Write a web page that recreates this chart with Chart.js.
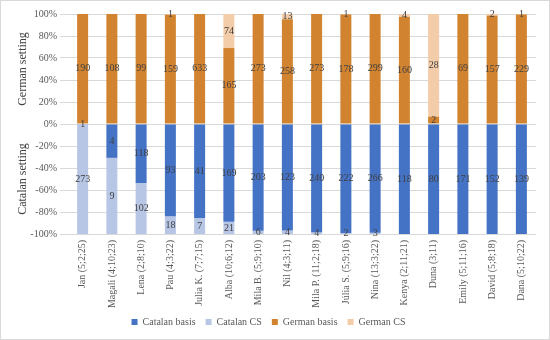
<!DOCTYPE html>
<html>
<head>
<meta charset="utf-8">
<script src="https://cdn.jsdelivr.net/npm/chart.js@4/dist/chart.umd.min.js"></script>
<style>
  body { margin: 0; background: #fff; }
  #wrap { width: 548px; height: 338px; border: 1px solid #d9d9d9; position: relative; }
</style>
</head>
<body>
<div id="wrap"><canvas id="Chart1" width="548" height="338"></canvas></div>
<script>
// children, counts per setting
var kids = ['Jan (5;2;25)', 'Magali (4;10;23)', 'Lena (2;8;10)', 'Pau (4;3;22)', 'Julia K. (7;7;15)',
	'Alba (10;6;12)', 'Mila B. (5;9;10)', 'Nil (4;3;11)', 'Mila P. (11;2;18)', 'Júlia S. (5;9;16)',
	'Nina (13;3;22)', 'Kenya (2;11;21)', 'Duna (3;11)', 'Emily (5;11;16)', 'David (5;8;18)', 'Dana (5;10;22)'];

var catBasis = [1, 4, 118, 93, 41, 169, 203, 123, 240, 222, 266, 118, 80, 171, 152, 139];
var catCS    = [273, 9, 102, 18, 7, 21, 6, 4, 4, 2, 3, 0, 0, 0, 0, 0];
var gerBasis = [190, 108, 99, 159, 633, 165, 273, 258, 273, 178, 299, 160, 2, 69, 157, 229];
var gerCS    = [0, 0, 0, 1, 0, 74, 0, 13, 0, 1, 0, 4, 28, 0, 2, 1];

var yTicks = [-100, -80, -60, -40, -20, 0, 20, 40, 60, 80, 100];

function pct(a, b, sign) {
	return a.map(function (v, i) {
		var t = v + b[i];
		return t ? sign * v / t * 100 : 0;
	});
}

var font = 'Liberation Serif';

// count labels in the middle of each segment
var countLabels = {
	id: 'countLabels',
	afterDatasetsDraw: function (chart) {
		var ctx = chart.ctx;
		ctx.save();
		ctx.font = '10px "' + font + '"';
		ctx.fillStyle = '#404040';
		ctx.textAlign = 'center';
		ctx.textBaseline = 'middle';
		chart.data.datasets.forEach(function (ds, di) {
			chart.getDatasetMeta(di).data.forEach(function (bar, i) {
				var n = ds.counts[i];
				if (!n) return;
				ctx.fillText(n, bar.x, (bar.y + bar.base) / 2);
			});
		});
		ctx.restore();
	}
};

// two y-axis titles
var sideTitles = {
	id: 'sideTitles',
	beforeDraw: function (chart) {
		// let the long category labels run past the axis box
		chart.scales.x._computeLabelArea = function () {};
	},
	afterDraw: function (chart) {
		var ctx = chart.ctx, y = chart.scales.y;
		var top = y.getPixelForValue(100), zero = y.getPixelForValue(0), bot = y.getPixelForValue(-100);
		ctx.save();
		ctx.font = '12px "' + font + '"';
		ctx.fillStyle = '#404040';
		ctx.textAlign = 'center';
		ctx.textBaseline = 'middle';
		[['German setting', (top + zero) / 2], ['Catalan setting', (zero + bot) / 2]].forEach(function (t) {
			ctx.save();
			ctx.translate(22, t[1]);
			ctx.rotate(-Math.PI / 2);
			ctx.fillText(t[0], 0, 0);
			ctx.restore();
		});
		ctx.restore();
	}
};

var context = document.getElementById('Chart1').getContext('2d');

var myChart = new Chart(context, {
	type: 'bar',
	data: {
		labels: kids,
		datasets: [
			{ label: 'Catalan basis', data: pct(catBasis, catCS, -1), counts: catBasis, backgroundColor: '#4472C4' },
			{ label: 'Catalan CS', data: pct(catCS, catBasis, -1), counts: catCS, backgroundColor: '#B8C6E5' },
			{ label: 'German basis', data: pct(gerBasis, gerCS, 1), counts: gerBasis, backgroundColor: '#D2832F' },
			{ label: 'German CS', data: pct(gerCS, gerBasis, 1), counts: gerCS, backgroundColor: '#F3CDAA' }
		]
	},
	plugins: [countLabels, sideTitles],
	options: {
		responsive: false,
		animation: false,
		layout: { padding: { top: 13, right: 13, bottom: 2, left: 0 } },
		datasets: { bar: { categoryPercentage: 0.8, barPercentage: 0.47, stack: 's' } },
		scales: {
			x: {
				stacked: true,
				grid: { display: false, tickLength: 4 },
				border: { display: false },
				ticks: {
					autoSkip: false, minRotation: 90, maxRotation: 90, padding: 2,
					color: '#595959', font: { family: font, size: 10 }
				},
				afterFit: function (s) { s.height = 73; }
			},
			y: {
				stacked: true,
				min: -100, max: 100,
				afterBuildTicks: function (s) { s.ticks = yTicks.map(function (v) { return { value: v }; }); },
				grid: { color: '#d9d9d9' },
				border: { display: false },
				ticks: {
					color: '#595959', font: { family: font, size: 10 },
					callback: function (v) { return v + '%'; }
				},
				afterFit: function (s) { s.width = 67; }
			}
		},
		plugins: {
			legend: {
				position: 'bottom',
				labels: { boxWidth: 6, boxHeight: 6, padding: 10, color: '#595959', font: { family: font, size: 10 } }
			},
			tooltip: { enabled: false }
		}
	}
});
</script>
</body>
</html>
